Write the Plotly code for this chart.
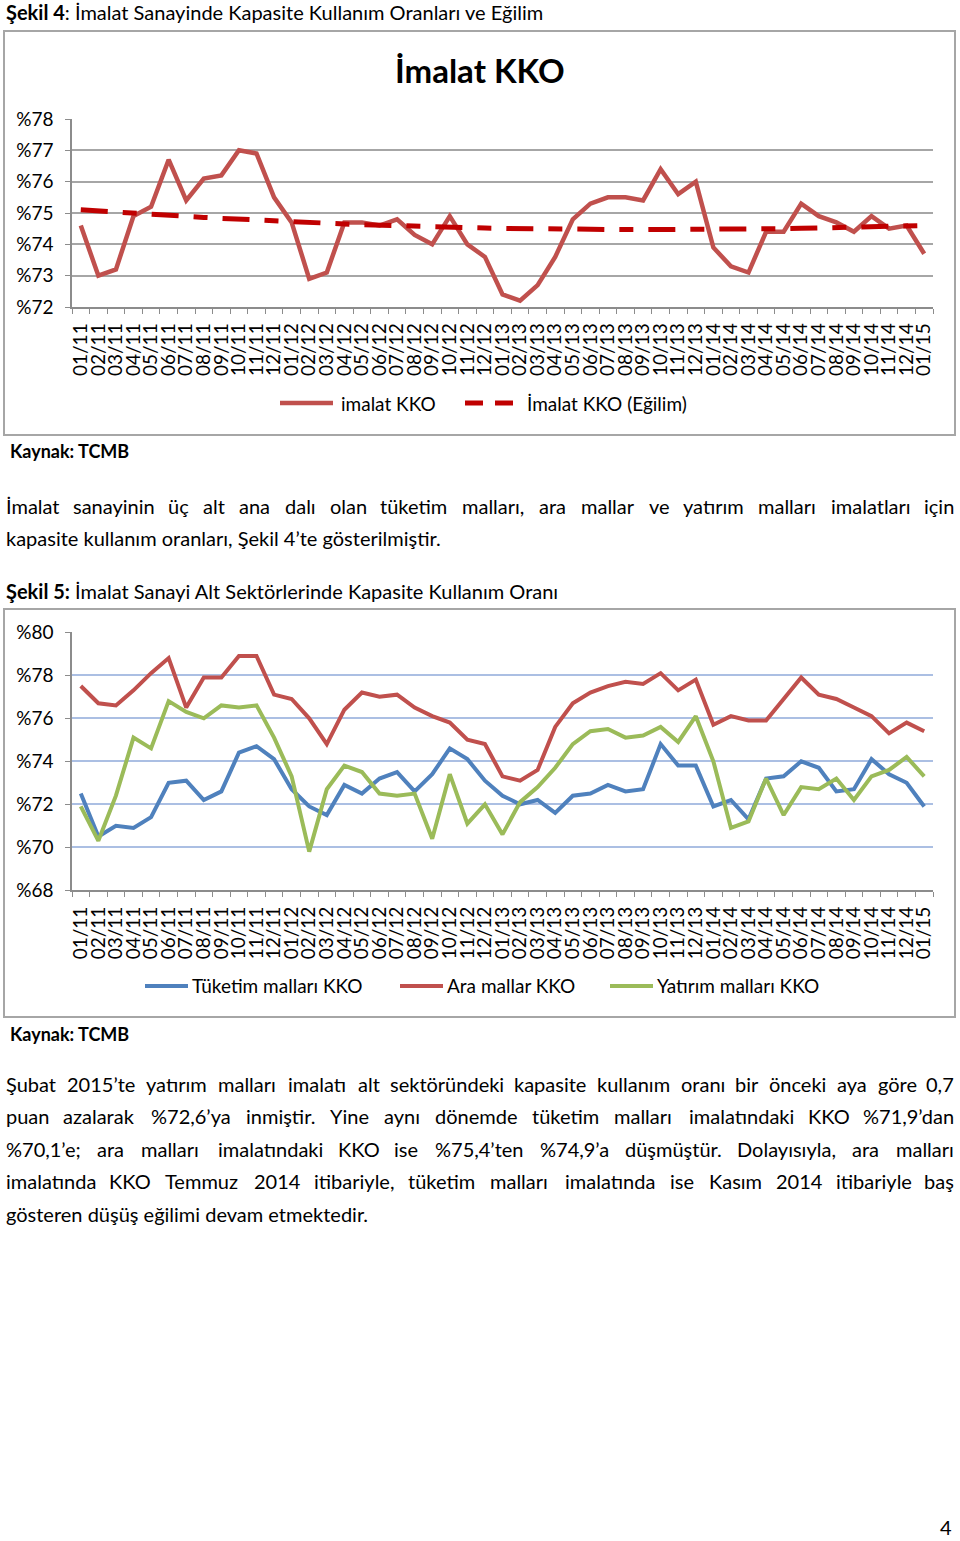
import plotly.graph_objects as go

W, H = 960, 1541

# months on both x axes
months = ["01/11", "02/11", "03/11", "04/11", "05/11", "06/11", "07/11", "08/11", "09/11", "10/11", "11/11", "12/11",
          "01/12", "02/12", "03/12", "04/12", "05/12", "06/12", "07/12", "08/12", "09/12", "10/12", "11/12", "12/12",
          "01/13", "02/13", "03/13", "04/13", "05/13", "06/13", "07/13", "08/13", "09/13", "10/13", "11/13", "12/13",
          "01/14", "02/14", "03/14", "04/14", "05/14", "06/14", "07/14", "08/14", "09/14", "10/14", "11/14", "12/14",
          "01/15"]

# Sekil 4
imalat_kko = [74.6, 73.0, 73.2, 74.9, 75.2, 76.7, 75.4, 76.1, 76.2, 77.0, 76.9, 75.5,
              74.7, 72.9, 73.1, 74.7, 74.7, 74.6, 74.8, 74.3, 74.0, 74.9, 74.0, 73.6,
              72.4, 72.2, 72.7, 73.6, 74.8, 75.3, 75.5, 75.5, 75.4, 76.4, 75.6, 76.0,
              73.9, 73.3, 73.1, 74.4, 74.4, 75.3, 74.9, 74.7, 74.4, 74.9, 74.5, 74.6,
              73.7]
imalat_egilim = [75.10, 75.06, 75.02, 74.99, 74.95, 74.92, 74.89, 74.86, 74.83, 74.80, 74.77, 74.75,
                 74.72, 74.70, 74.68, 74.65, 74.63, 74.61, 74.60, 74.58, 74.57, 74.55, 74.54, 74.52,
                 74.51, 74.50, 74.49, 74.49, 74.48, 74.48, 74.47, 74.47, 74.47, 74.47, 74.47, 74.47,
                 74.47, 74.48, 74.48, 74.49, 74.50, 74.51, 74.52, 74.53, 74.54, 74.55, 74.57, 74.58,
                 74.60]

# Sekil 5
tuketim_kko = [72.5, 70.5, 71.0, 70.9, 71.4, 73.0, 73.1, 72.2, 72.6, 74.4, 74.7, 74.1,
               72.7, 71.9, 71.5, 72.9, 72.5, 73.2, 73.5, 72.6, 73.4, 74.6, 74.1, 73.1,
               72.4, 72.0, 72.2, 71.6, 72.4, 72.5, 72.9, 72.6, 72.7, 74.8, 73.8, 73.8,
               71.9, 72.2, 71.3, 73.2, 73.3, 74.0, 73.7, 72.6, 72.7, 74.1, 73.4, 73.0,
               71.9]
ara_kko = [77.5, 76.7, 76.6, 77.3, 78.1, 78.8, 76.5, 77.9, 77.9, 78.9, 78.9, 77.1,
           76.9, 76.0, 74.8, 76.4, 77.2, 77.0, 77.1, 76.5, 76.1, 75.8, 75.0, 74.8,
           73.3, 73.1, 73.6, 75.6, 76.7, 77.2, 77.5, 77.7, 77.6, 78.1, 77.3, 77.8,
           75.7, 76.1, 75.9, 75.9, 76.9, 77.9, 77.1, 76.9, 76.5, 76.1, 75.3, 75.8,
           75.4]
yatirim_kko = [71.9, 70.3, 72.4, 75.1, 74.6, 76.8, 76.3, 76.0, 76.6, 76.5, 76.6, 75.1,
               73.3, 69.8, 72.7, 73.8, 73.5, 72.5, 72.4, 72.5, 70.4, 73.4, 71.1, 72.0,
               70.6, 72.1, 72.8, 73.7, 74.8, 75.4, 75.5, 75.1, 75.2, 75.6, 74.9, 76.1,
               74.0, 70.9, 71.2, 73.2, 71.5, 72.8, 72.7, 73.2, 72.2, 73.3, 73.6, 74.2,
               73.3]

para1 = ["İmalat sanayinin üç alt ana dalı olan tüketim malları, ara mallar ve yatırım malları imalatları için",
         "kapasite kullanım oranları, Şekil 4’te gösterilmiştir."]
para2 = ["Şubat 2015’te yatırım malları imalatı alt sektöründeki kapasite kullanım oranı bir önceki aya göre 0,7",
         "puan azalarak %72,6’ya inmiştir. Yine aynı dönemde tüketim malları imalatındaki KKO %71,9’dan",
         "%70,1’e; ara malları imalatındaki KKO ise %75,4’ten %74,9’a düşmüştür. Dolayısıyla, ara malları",
         "imalatında KKO Temmuz 2014 itibariyle, tüketim malları imalatında ise Kasım 2014 itibariyle baş",
         "gösteren düşüş eğilimi devam etmektedir."]

FONT = "Lato"
RED = "#C0504D"
BLUE = "#4F81BD"
GREEN = "#9BBB59"


def px(x):
    return x / W


def py(y):
    return 1 - y / H


annotations = []
shapes = []


def ann(x, y, text, size=20, anchor="left"):
    annotations.append(dict(x=px(x), y=py(y), xref="paper", yref="paper", text=text, showarrow=False,
                            xanchor=anchor, yanchor="middle", font=dict(family=FONT, size=size, color="black")))


def text_w(s, size):
    # rough glyph widths, only used to spread justified words
    w = 0
    for ch in s:
        if ch in "iıljİI.,’:;":
            w += 0.24
        elif ch in "frt":
            w += 0.34
        elif ch in "szş":
            w += 0.42
        elif ch in "cçkvy":
            w += 0.48
        elif ch in "mM":
            w += 0.84
        elif ch == "%":
            w += 0.78
        elif ch.isdigit():
            w += 0.58
        elif ch.isupper():
            w += 0.64
        else:
            w += 0.55
    return w * size


def justified(line, y, x0=4, x1=956, size=20):
    words = line.split()
    ws = [text_w(w, size) for w in words]
    gap = (x1 - x0 - sum(ws)) / (len(words) - 1)
    x = x0
    for k, (w, wd) in enumerate(zip(words, ws)):
        if k == 0:
            ann(x0, y, w, size, "left")
        elif k == len(words) - 1:
            ann(x1, y, w, size, "right")
        else:
            ann(x + wd / 2, y, w, size, "center")
        x += wd + gap


def legend_line(x0, x1, y, color, dash="solid", width=4.5):
    shapes.append(dict(type="line", xref="paper", yref="paper", x0=px(x0), x1=px(x1), y0=py(y), y1=py(y),
                       line=dict(color=color, width=width, dash=dash)))


fig = go.Figure()

# Sekil 4 traces
fig.add_trace(go.Scatter(x=months, y=imalat_kko, mode="lines", name="imalat KKO",
                         line=dict(color=RED, width=4.5), xaxis="x", yaxis="y"))
fig.add_trace(go.Scatter(x=months, y=imalat_egilim, mode="lines", name="İmalat KKO (Eğilim)",
                         line=dict(color="#C00000", width=5, dash="27px,15px,14px,15px"), xaxis="x", yaxis="y"))

# Sekil 5 traces
fig.add_trace(go.Scatter(x=months, y=tuketim_kko, mode="lines", name="Tüketim malları KKO",
                         line=dict(color=BLUE, width=4), xaxis="x2", yaxis="y2"))
fig.add_trace(go.Scatter(x=months, y=ara_kko, mode="lines", name="Ara mallar KKO",
                         line=dict(color=RED, width=4), xaxis="x2", yaxis="y2"))
fig.add_trace(go.Scatter(x=months, y=yatirim_kko, mode="lines", name="Yatırım malları KKO",
                         line=dict(color=GREEN, width=4), xaxis="x2", yaxis="y2"))

xcommon = dict(type="category", tickmode="array", tickvals=months, ticktext=months, tickangle=-90,
               ticks="outside", tickson="boundaries", ticklen=5, tickcolor="#8C8C8C", showline=True,
               linecolor="#8C8C8C", linewidth=1.5, showgrid=False, range=[-0.5, 48.5], ticklabelstandoff=7,
               tickfont=dict(family=FONT, size=19, color="black"), domain=[px(72), px(933)])
ycommon = dict(tickprefix="%", ticks="outside", ticklen=5, tickcolor="#8C8C8C", showline=True,
               linecolor="#8C8C8C", linewidth=1.5, zeroline=False, gridwidth=1.5, ticklabelstandoff=8,
               tickfont=dict(family=FONT, size=19, color="black"))

fig.update_layout(
    width=W, height=H, margin=dict(l=0, r=0, t=0, b=0, autoexpand=False),
    paper_bgcolor="white", plot_bgcolor="white", showlegend=False,
    xaxis=dict(xcommon, anchor="y"),
    yaxis=dict(ycommon, anchor="x", range=[72, 78], dtick=1, gridcolor="#A6A6A6",
               domain=[py(307), py(119)]),
    xaxis2=dict(xcommon, anchor="y2"),
    yaxis2=dict(ycommon, anchor="x2", range=[68, 80], dtick=2, gridcolor="#ABBFE3",
                domain=[py(890.3), py(632.3)]),
)

# chart frames
for y0, y1 in [(31, 435), (609, 1017)]:
    shapes.append(dict(type="rect", xref="paper", yref="paper", x0=px(4), x1=px(955), y0=py(y0), y1=py(y1),
                       line=dict(color="#A6A6A6", width=2), layer="below"))

# texts
ann(4, 12, "<b>Şekil 4</b>: İmalat Sanayinde Kapasite Kullanım Oranları ve Eğilim")
ann(480, 70, "<b>İmalat KKO</b>", size=33, anchor="center")
ann(8, 451, "<b>Kaynak: TCMB</b>", size=18)
ann(4, 591, "<b>Şekil 5:</b> İmalat Sanayi Alt Sektörlerinde Kapasite Kullanım Oranı")
ann(8, 1034, "<b>Kaynak: TCMB</b>", size=18)
ann(954, 1527, "4", anchor="right")

justified(para1[0], 506)
ann(4, 538, para1[1])
for i, line in enumerate(para2):
    y = [1084, 1116, 1149, 1181, 1214][i]
    if i < len(para2) - 1:
        justified(line, y)
    else:
        ann(4, y, line)

# legends
legend_line(280, 333, 403, RED)
ann(339, 403, "imalat KKO", size=19)
legend_line(465, 515, 403, "#C00000", dash="18px,12px", width=5)
ann(525, 403, "İmalat KKO (Eğilim)", size=19)

legend_line(145, 188, 986, BLUE, width=4)
ann(190, 986, "Tüketim malları KKO", size=19)
legend_line(400, 443, 986, RED, width=4)
ann(445, 986, "Ara mallar KKO", size=19)
legend_line(610, 653, 986, GREEN, width=4)
ann(655, 986, "Yatırım malları KKO", size=19)

fig.update_layout(annotations=annotations, shapes=shapes)

# pin the figure to the window corner, no page margin
pin = ("var gd = document.getElementById('{plot_id}');"
       "gd.style.position = 'fixed'; gd.style.left = '0px'; gd.style.top = '0px';"
       "document.body.style.margin = '0'; document.body.style.overflow = 'hidden';")
fig.write_html("out.html", config={"displayModeBar": False}, post_script=pin)
